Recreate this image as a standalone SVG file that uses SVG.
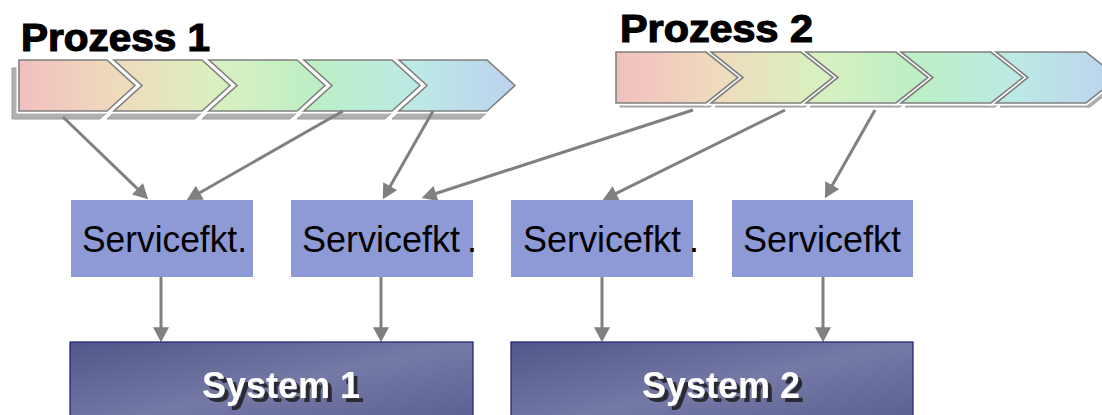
<svg xmlns="http://www.w3.org/2000/svg" width="1102" height="415" viewBox="0 0 1102 415">
  <style>
    .title { font-family: "Liberation Sans", Arial, sans-serif; font-weight: bold; font-size: 38px; fill: #000; stroke: #000; stroke-width: 1.2; }
    .shadow { fill: #b0b0b0; stroke: #9a9a9a; stroke-width: 1; }
    .gap { fill: none; stroke: #ffffff; stroke-width: 5; stroke-linejoin: miter; }
    .step { stroke: #808080; stroke-width: 1.6; stroke-linejoin: miter; }
    .svc { fill: #8e9ad6; }
    .svc-text { font-family: "Liberation Sans", Arial, sans-serif; font-size: 36px; fill: #000; }
    .sys { fill: url(#sysFill); stroke: #1c1c7a; stroke-width: 1.2; }
    .sys-text { font-family: "Liberation Sans", Arial, sans-serif; font-weight: bold; font-size: 36px; fill: #fff; filter: url(#textShadow); }
    .link { fill: none; stroke: #808080; stroke-width: 3; marker-end: url(#head); }
  </style>
  <defs>
    <linearGradient id="band1" gradientUnits="userSpaceOnUse" x1="19" y1="0" x2="516" y2="0">
      <stop offset="0" stop-color="#f2bfbf"/>
      <stop offset="0.2" stop-color="#efdbbc"/>
      <stop offset="0.4" stop-color="#d9f0c0"/>
      <stop offset="0.6" stop-color="#bcefc6"/>
      <stop offset="0.8" stop-color="#bce9e6"/>
      <stop offset="1" stop-color="#bcd2ef"/>
    </linearGradient>
    <linearGradient id="band2" gradientUnits="userSpaceOnUse" x1="616" y1="0" x2="1118" y2="0">
      <stop offset="0" stop-color="#f2bfbf"/>
      <stop offset="0.2" stop-color="#efdbbc"/>
      <stop offset="0.4" stop-color="#d9f0c0"/>
      <stop offset="0.6" stop-color="#bcefc6"/>
      <stop offset="0.8" stop-color="#bce9e6"/>
      <stop offset="1" stop-color="#bcd2ef"/>
    </linearGradient>
    <linearGradient id="sysFill" x1="0" y1="0" x2="1" y2="1">
      <stop offset="0" stop-color="#52578a"/>
      <stop offset="0.5" stop-color="#7479a6"/>
      <stop offset="1" stop-color="#585c8e"/>
    </linearGradient>
    <!-- dark offset copy behind the white system labels -->
    <filter id="textShadow" x="-10%" y="-20%" width="130%" height="150%">
      <feOffset in="SourceAlpha" dx="4" dy="4" result="off"/>
      <feFlood flood-color="#2b2b33"/>
      <feComposite in2="off" operator="in" result="shade"/>
      <feMerge>
        <feMergeNode in="shade"/>
        <feMergeNode in="SourceGraphic"/>
      </feMerge>
    </filter>
    <marker id="head" markerUnits="userSpaceOnUse" markerWidth="16" markerHeight="16" viewBox="0 0 14 15" refX="10" refY="7.5" orient="auto">
      <path d="M0,0 L14,7.5 L0,15 z" fill="#808080"/>
    </marker>
    <!-- chevron shapes: first step has a flat back, the rest a notch -->
    <path id="p1first" d="M0,0 H88 L116,25.5 L88,51 H0 Z"/>
    <path id="p1step" d="M0,0 H88 L116,25.5 L88,51 H0 L28,25.5 Z"/>
    <path id="p2first" d="M0,0 H90 L122,25.5 L90,51 H0 Z"/>
    <path id="p2step" d="M0,0 H90 L122,25.5 L90,51 H0 L32,25.5 Z"/>
  </defs>

  <!-- process 1 -->
  <g id="prozess1">
    <text class="title" x="21" y="51" textLength="189" lengthAdjust="spacingAndGlyphs">Prozess 1</text>
    <g transform="translate(-7,8)">
      <use href="#p1first" x="19" y="60" class="shadow"/>
      <use href="#p1step" x="114" y="60" class="shadow"/>
      <use href="#p1step" x="209" y="60" class="shadow"/>
      <use href="#p1step" x="304" y="60" class="shadow"/>
      <use href="#p1step" x="399" y="60" class="shadow"/>
    </g>
    <use href="#p1first" x="19" y="60" class="gap"/>
    <use href="#p1step" x="114" y="60" class="gap"/>
    <use href="#p1step" x="209" y="60" class="gap"/>
    <use href="#p1step" x="304" y="60" class="gap"/>
    <use href="#p1step" x="399" y="60" class="gap"/>
    <g fill="url(#band1)">
      <path class="step" d="M19,60 H107 L135,85.5 L107,111 H19 Z"/>
      <path class="step" d="M114,60 H202 L230,85.5 L202,111 H114 L142,85.5 Z"/>
      <path class="step" d="M209,60 H297 L325,85.5 L297,111 H209 L237,85.5 Z"/>
      <path class="step" d="M304,60 H392 L420,85.5 L392,111 H304 L332,85.5 Z"/>
      <path class="step" d="M399,60 H487 L515,85.5 L487,111 H399 L427,85.5 Z"/>
    </g>
  </g>

  <!-- process 2 -->
  <g id="prozess2">
    <text class="title" x="620" y="42" textLength="193" lengthAdjust="spacingAndGlyphs">Prozess 2</text>
    <g transform="translate(4,4)">
      <use href="#p2first" x="616" y="52" class="shadow"/>
      <use href="#p2step" x="711" y="52" class="shadow"/>
      <use href="#p2step" x="806" y="52" class="shadow"/>
      <use href="#p2step" x="901" y="52" class="shadow"/>
      <use href="#p2step" x="996" y="52" class="shadow"/>
    </g>
    <use href="#p2first" x="616" y="52" class="gap"/>
    <use href="#p2step" x="711" y="52" class="gap"/>
    <use href="#p2step" x="806" y="52" class="gap"/>
    <use href="#p2step" x="901" y="52" class="gap"/>
    <use href="#p2step" x="996" y="52" class="gap"/>
    <g fill="url(#band2)">
      <path class="step" d="M616,52 H706 L738,77.5 L706,103 H616 Z"/>
      <path class="step" d="M711,52 H801 L833,77.5 L801,103 H711 L743,77.5 Z"/>
      <path class="step" d="M806,52 H896 L928,77.5 L896,103 H806 L838,77.5 Z"/>
      <path class="step" d="M901,52 H991 L1023,77.5 L991,103 H901 L933,77.5 Z"/>
      <path class="step" d="M996,52 H1086 L1118,77.5 L1086,103 H996 L1028,77.5 Z"/>
    </g>
  </g>

  <!-- connectors -->
  <g id="connectors">
    <path class="link" d="M63,117 L145.1,196.2"/>
    <path class="link" d="M343,111 L190.5,198"/>
    <path class="link" d="M433,111 L384.9,195.5"/>
    <path class="link" d="M693,110 L425.8,196.8"/>
    <path class="link" d="M785,110 L606.6,198.2"/>
    <path class="link" d="M875,110 L827,194.5"/>
    <path class="link" d="M161,277 V338"/>
    <path class="link" d="M381,277 V338"/>
    <path class="link" d="M602,277 V338"/>
    <path class="link" d="M823,277 V338"/>
  </g>

  <!-- service functions -->
  <g id="service1">
    <rect class="svc" x="71" y="200" width="182" height="77"/>
    <text class="svc-text" x="82" y="252" textLength="165" lengthAdjust="spacingAndGlyphs">Servicefkt.</text>
  </g>
  <g id="service2">
    <rect class="svc" x="291" y="200" width="182" height="77"/>
    <text class="svc-text" x="302" y="252">Servicefkt<tspan dx="7">.</tspan></text>
  </g>
  <g id="service3">
    <rect class="svc" x="511" y="200" width="182" height="77"/>
    <text class="svc-text" x="523" y="252">Servicefkt<tspan dx="8">.</tspan></text>
  </g>
  <g id="service4">
    <rect class="svc" x="732" y="200" width="181" height="77"/>
    <text class="svc-text" x="743" y="252">Servicefkt</text>
  </g>

  <!-- backend systems -->
  <g id="system1">
    <rect class="sys" x="70" y="342" width="403" height="90"/>
    <text class="sys-text" x="202" y="398">System 1</text>
  </g>
  <g id="system2">
    <rect class="sys" x="511" y="342" width="402" height="90"/>
    <text class="sys-text" x="642" y="398">System 2</text>
  </g>
</svg>
